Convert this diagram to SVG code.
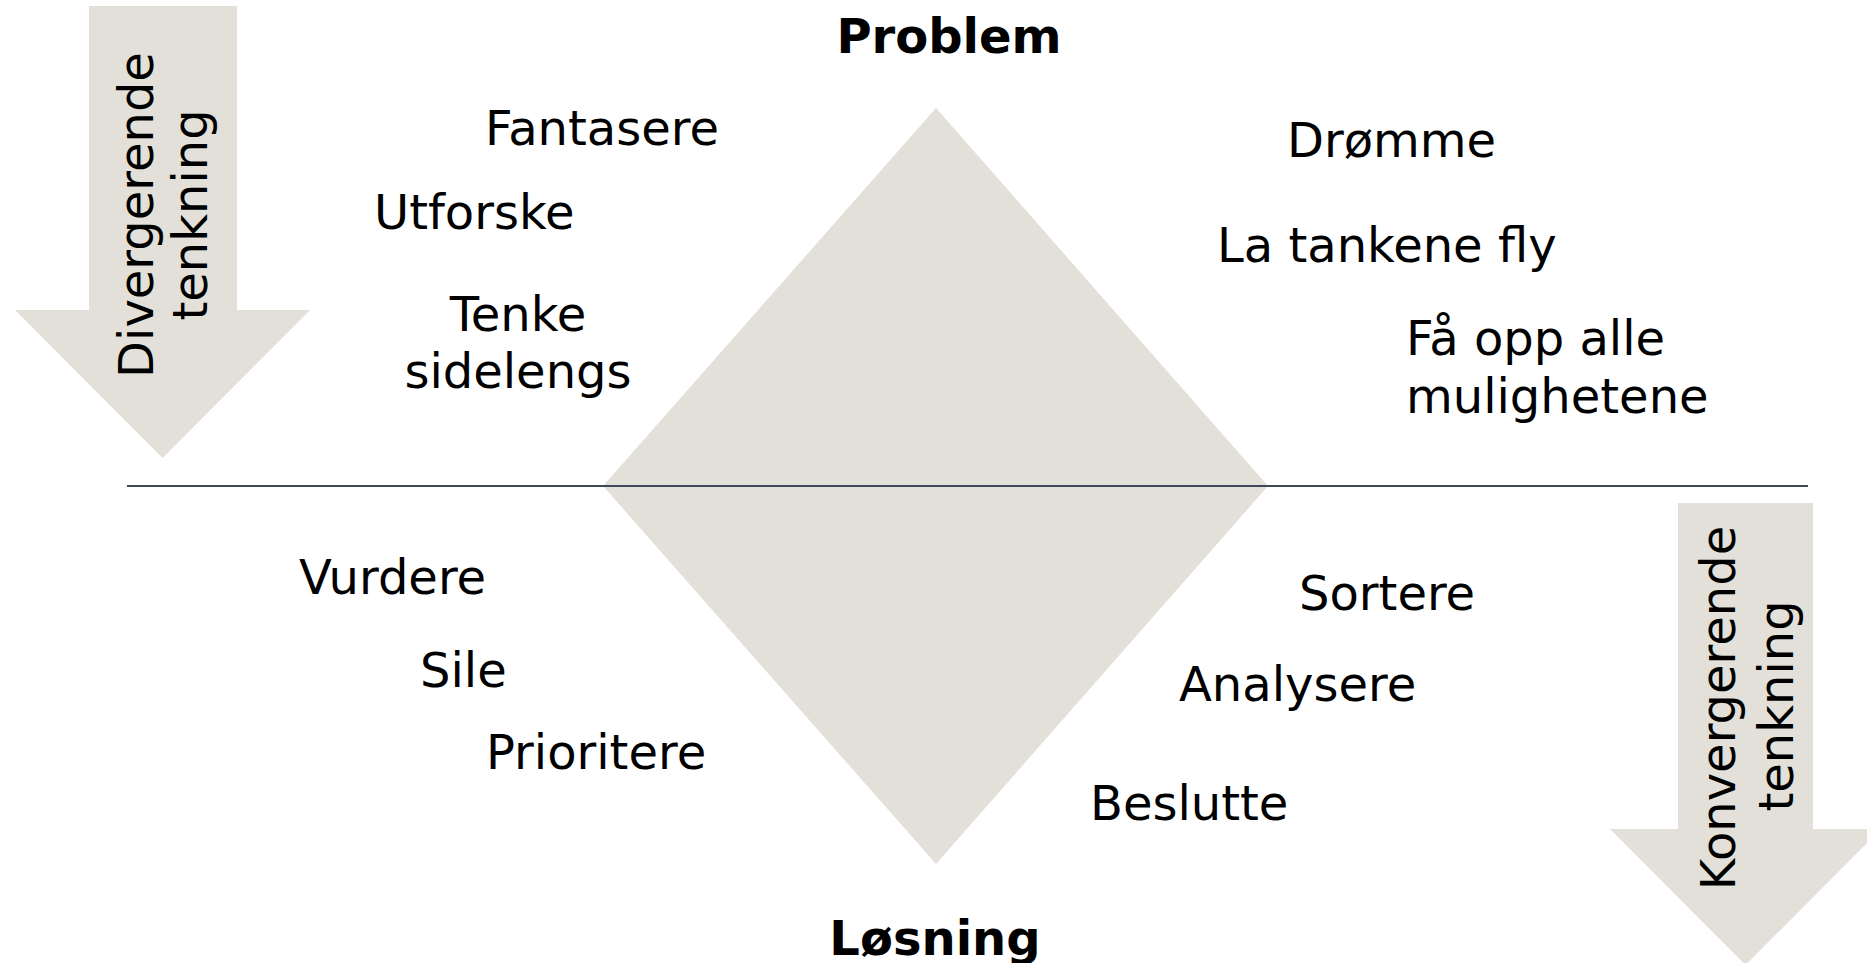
<svg xmlns="http://www.w3.org/2000/svg" width="1867" height="963" viewBox="0 0 1867 963">
  <style>
    .shape { fill: #e2e0d8; }
    .lbl { font-family: "DejaVu Sans", Verdana, sans-serif; font-size: 48px; fill: #000000; }
    .ttl { font-family: "DejaVu Sans", Verdana, sans-serif; font-size: 48px; font-weight: bold; fill: #000000; }
    .axis { stroke: #3b4a57; stroke-width: 2; fill: none; }
  </style>
  <rect x="0" y="0" width="1867" height="963" fill="#ffffff"/>

  <g id="diamond">
    <polygon class="shape" points="936,108 1268,486 936,864 603,486"/>
  </g>

  <g id="connectors">
    <line class="axis" x1="127" y1="486" x2="1808" y2="486"/>
  </g>

  <g id="arrow-divergent">
    <polygon class="shape" points="89,6 237,6 237,310 310,310 162.5,458 15,310 89,310"/>
    <text class="lbl" text-anchor="middle" transform="translate(153,215) rotate(-90)">Divergerende</text>
    <text class="lbl" text-anchor="middle" transform="translate(207,215) rotate(-90)">tenkning</text>
  </g>

  <g id="arrow-convergent">
    <polygon class="shape" points="1678,503 1813,503 1813,829 1881,829 1745.5,965 1610,829 1678,829"/>
    <text class="lbl" text-anchor="middle" transform="translate(1735,708) rotate(-90)">Konvergerende</text>
    <text class="lbl" text-anchor="middle" transform="translate(1793,706) rotate(-90)">tenkning</text>
  </g>

  <g id="title-problem">
    <text class="ttl" x="949" y="53" text-anchor="middle">Problem</text>
  </g>
  <g id="title-losning">
    <text class="ttl" x="935" y="955" text-anchor="middle">Løsning</text>
  </g>

  <g id="lbl-fantasere"><text class="lbl" x="485" y="145">Fantasere</text></g>
  <g id="lbl-utforske"><text class="lbl" x="374" y="229">Utforske</text></g>
  <g id="lbl-tenke">
    <text class="lbl" x="518" y="331" text-anchor="middle">Tenke</text>
    <text class="lbl" x="518" y="388" text-anchor="middle">sidelengs</text>
  </g>
  <g id="lbl-dromme"><text class="lbl" x="1287" y="157">Drømme</text></g>
  <g id="lbl-latankene"><text class="lbl" x="1217" y="262">La tankene fly</text></g>
  <g id="lbl-faopp">
    <text class="lbl" x="1406" y="355">Få opp alle</text>
    <text class="lbl" x="1406" y="413">mulighetene</text>
  </g>
  <g id="lbl-vurdere"><text class="lbl" x="299" y="594">Vurdere</text></g>
  <g id="lbl-sile"><text class="lbl" x="420" y="687">Sile</text></g>
  <g id="lbl-prioritere"><text class="lbl" x="486" y="769">Prioritere</text></g>
  <g id="lbl-sortere"><text class="lbl" x="1299" y="610">Sortere</text></g>
  <g id="lbl-analysere"><text class="lbl" x="1179" y="701">Analysere</text></g>
  <g id="lbl-beslutte"><text class="lbl" x="1090" y="820">Beslutte</text></g>
</svg>
